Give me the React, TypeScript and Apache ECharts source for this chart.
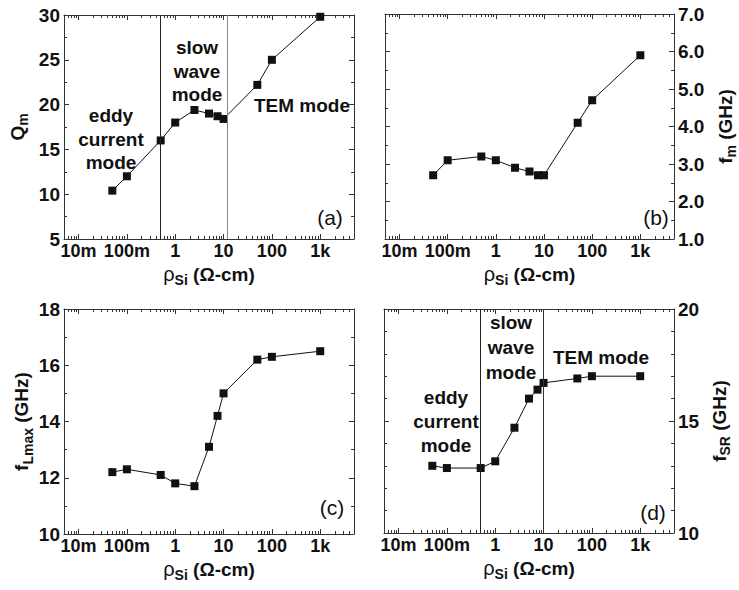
import React, { useEffect, useRef } from 'react';
import * as echarts from 'echarts';

// ---- data ----
const rho = [0.05, 0.1, 0.5, 1, 2.5, 5, 7.5, 10, 50, 100, 1000];
const qm = [10.4, 12.0, 16.0, 18.0, 19.4, 19.0, 18.7, 18.4, 22.2, 25.0, 29.8];
const fm = [2.7, 3.1, 3.2, 3.1, 2.9, 2.8, 2.7, 2.7, 4.1, 4.7, 5.9];
const fLmax = [12.2, 12.3, 12.1, 11.8, 11.7, 13.1, 14.2, 15.0, 16.2, 16.3, 16.5];
const fSR = [13.0, 12.9, 12.9, 13.2, 14.7, 16.0, 16.4, 16.7, 16.9, 17.0, 17.0];

const xTickValues = [0.01, 0.1, 1, 10, 100, 1000];
const xTickLabels = ['10m', '100m', '1', '10', '100', '1k'];
const modeLinesA = [0.5, 12];
const modeLinesD = [0.5, 10];
const X_MIN = 0.005;
const X_MAX = 5000;

const lg = (v: number) => Math.log10(v);
const FONT = '"Liberation Sans", Arial, Helvetica, sans-serif';
const LINE = '#333';
const INK = '#111';

const xMajor = xTickValues.map(lg);
const minorX: number[] = [];
for (let d = -3; d <= 3; d++) {
  for (let k = 2; k <= 9; k++) {
    const v = lg(k) + d;
    if (v > lg(X_MIN) && v < lg(X_MAX)) minorX.push(v);
  }
}

const fmtX = (v: number) => {
  for (let i = 0; i < xMajor.length; i++) {
    if (Math.abs(v - xMajor[i]) < 1e-6) return xTickLabels[i];
  }
  return '';
};

const xNameRich = {
  r: { fontSize: 20, fontFamily: FONT, color: INK, lineHeight: 26, fontWeight: 'normal' },
  s: { fontSize: 14, fontFamily: FONT, color: INK, lineHeight: 15, fontWeight: 'bold', verticalAlign: 'bottom' },
  b: { fontSize: 19, fontFamily: FONT, color: INK, lineHeight: 26, fontWeight: 'bold' },
};
const yNameRich = {
  b: { fontSize: 19, fontFamily: FONT, color: INK, lineHeight: 26, fontWeight: 'bold' },
  s: { fontSize: 14, fontFamily: FONT, color: INK, lineHeight: 15, fontWeight: 'bold', verticalAlign: 'bottom' },
};

type Panel = {
  grid: { left: number; top: number; width: number; height: number };
  min: number; max: number; interval: number; minor: number;
  side: 'left' | 'right';
  name: string; nameGap: number;
  values: number[];
  fmtY: (v: number) => string;
  lines: number[];
  lineColors: string[];
};

const panels: Panel[] = [
  {
    grid: { left: 64, top: 15, width: 290, height: 224 },
    min: 5, max: 30, interval: 5, minor: 2, side: 'left',
    name: '{b|Q}{s|m}', nameGap: 34, values: qm,
    fmtY: (v) => String(v), lines: modeLinesA, lineColors: ['#222', '#888'],
  },
  {
    grid: { left: 385, top: 14, width: 295, height: 225 },
    min: 1, max: 7, interval: 1, minor: 2, side: 'right',
    name: '{b|f}{s|m}{b| (GHz)}', nameGap: 38, values: fm,
    fmtY: (v) => v.toFixed(1), lines: [], lineColors: [],
  },
  {
    grid: { left: 64, top: 309, width: 290, height: 225 },
    min: 10, max: 18, interval: 2, minor: 2, side: 'left',
    name: '{b|f}{s|Lmax}{b| (GHz)}', nameGap: 28, values: fLmax,
    fmtY: (v) => String(v), lines: [], lineColors: [],
  },
  {
    grid: { left: 384, top: 309, width: 290, height: 224 },
    min: 10, max: 20, interval: 5, minor: 5, side: 'right',
    name: '{b|f}{s|SR}{b| (GHz)}', nameGap: 32, values: fSR,
    fmtY: (v) => String(v), lines: modeLinesD, lineColors: ['#222', '#333'],
  },
];

function buildOption() {
  const grid: any[] = [];
  const xAxis: any[] = [];
  const yAxis: any[] = [];
  const series: any[] = [];

  panels.forEach((p, gi) => {
    grid.push({ ...p.grid, containLabel: false });
    const xc = {
      type: 'value', gridIndex: gi, min: lg(X_MIN), max: lg(X_MAX),
      splitLine: { show: false },
    };
    const majorTick = { show: true, inside: true, length: 5, customValues: xMajor, lineStyle: { color: LINE, width: 1 } };
    const minorTick = { show: true, inside: true, length: 3, customValues: minorX, lineStyle: { color: LINE, width: 1 } };
    xAxis.push({
      ...xc, position: 'bottom',
      axisLine: { show: true, onZero: false, lineStyle: { color: LINE, width: 1 } },
      axisTick: majorTick,
      axisLabel: {
        show: true, customValues: xMajor, formatter: fmtX, margin: 3,
        fontSize: 18, fontWeight: 'bold', fontFamily: FONT, color: INK,
      },
      name: '{r|ρ}{s|Si}{b| (Ω-cm)}', nameLocation: 'middle', nameGap: 22,
      nameTextStyle: { rich: xNameRich },
    });
    xAxis.push({ ...xc, position: 'bottom', axisLine: { show: false, onZero: false }, axisTick: minorTick, axisLabel: { show: false } });
    xAxis.push({ ...xc, position: 'top', axisLine: { show: true, onZero: false, lineStyle: { color: LINE, width: 1 } }, axisTick: majorTick, axisLabel: { show: false } });
    xAxis.push({ ...xc, position: 'top', axisLine: { show: false, onZero: false }, axisTick: minorTick, axisLabel: { show: false } });

    const yc = {
      type: 'value', gridIndex: gi, min: p.min, max: p.max, interval: p.interval,
      splitLine: { show: false },
      axisLine: { show: true, onZero: false, lineStyle: { color: LINE, width: 1 } },
      axisTick: { show: true, inside: true, length: 5, lineStyle: { color: LINE, width: 1 } },
      minorTick: { show: true, splitNumber: p.minor, length: 3, lineStyle: { color: LINE, width: 1 } },
    };
    const labelled = {
      axisLabel: {
        show: true, formatter: p.fmtY, margin: 4,
        fontSize: 19, fontWeight: 'bold', fontFamily: FONT, color: INK,
      },
      name: p.name, nameLocation: 'middle', nameGap: p.nameGap, nameRotate: 90,
      nameTextStyle: { rich: yNameRich },
    };
    const plain = { axisLabel: { show: false } };
    yAxis.push({ ...yc, position: 'left', ...(p.side === 'left' ? labelled : plain) });
    yAxis.push({ ...yc, position: 'right', ...(p.side === 'right' ? labelled : plain) });

    const s: any = {
      type: 'line',
      xAxisIndex: gi * 4,
      yAxisIndex: gi * 2 + (p.side === 'left' ? 0 : 1),
      data: rho.map((r, i) => [lg(r), p.values[i]]),
      symbol: 'rect', symbolSize: 8,
      itemStyle: { color: '#111' },
      lineStyle: { color: '#111', width: 1 },
      z: 3,
    };
    if (p.lines.length) {
      s.markLine = {
        silent: true, symbol: 'none', label: { show: false },
        data: p.lines.map((v, i) => ({ xAxis: lg(v), lineStyle: { color: p.lineColors[i], width: 1, type: 'solid' } })),
      };
    }
    series.push(s);
  });

  const ann = (text: string, x: number, y: number, lh: number, bold = true, size = 19) => ({
    type: 'text', x, y, silent: true,
    style: {
      text, textAlign: 'center', textVerticalAlign: 'middle', align: 'center', verticalAlign: 'middle',
      fontSize: size, fontWeight: bold ? 'bold' : 'normal', fontFamily: FONT, fill: INK, lineHeight: lh,
    },
  });

  const graphic = [
    ann('eddy\ncurrent\nmode', 111, 139, 23.5),
    ann('slow\nwave\nmode', 197, 71, 23.5),
    ann('TEM mode', 302, 105, 24),
    ann('(a)', 330, 217, 24, false, 21),
    ann('(b)', 656, 217, 24, false, 21),
    ann('(c)', 332, 507, 24, false, 21),
    ann('eddy\ncurrent\nmode', 446, 421, 24),
    ann('slow\nwave\nmode', 511, 347, 25),
    ann('TEM mode', 601, 357, 24),
    ann('(d)', 653, 512, 24, false, 21),
  ];

  return { animation: false, backgroundColor: '#fff', grid, xAxis, yAxis, series, graphic };
}

export default function App() {
  const ref = useRef<HTMLDivElement>(null);
  useEffect(() => {
    if (!ref.current) return;
    const chart = echarts.init(ref.current, undefined, { renderer: 'svg' });
    chart.setOption(buildOption() as any);
    return () => chart.dispose();
  }, []);
  return <div ref={ref} style={{ position: 'absolute', left: 0, top: 0, width: 739, height: 590, background: '#fff' }} />;
}
